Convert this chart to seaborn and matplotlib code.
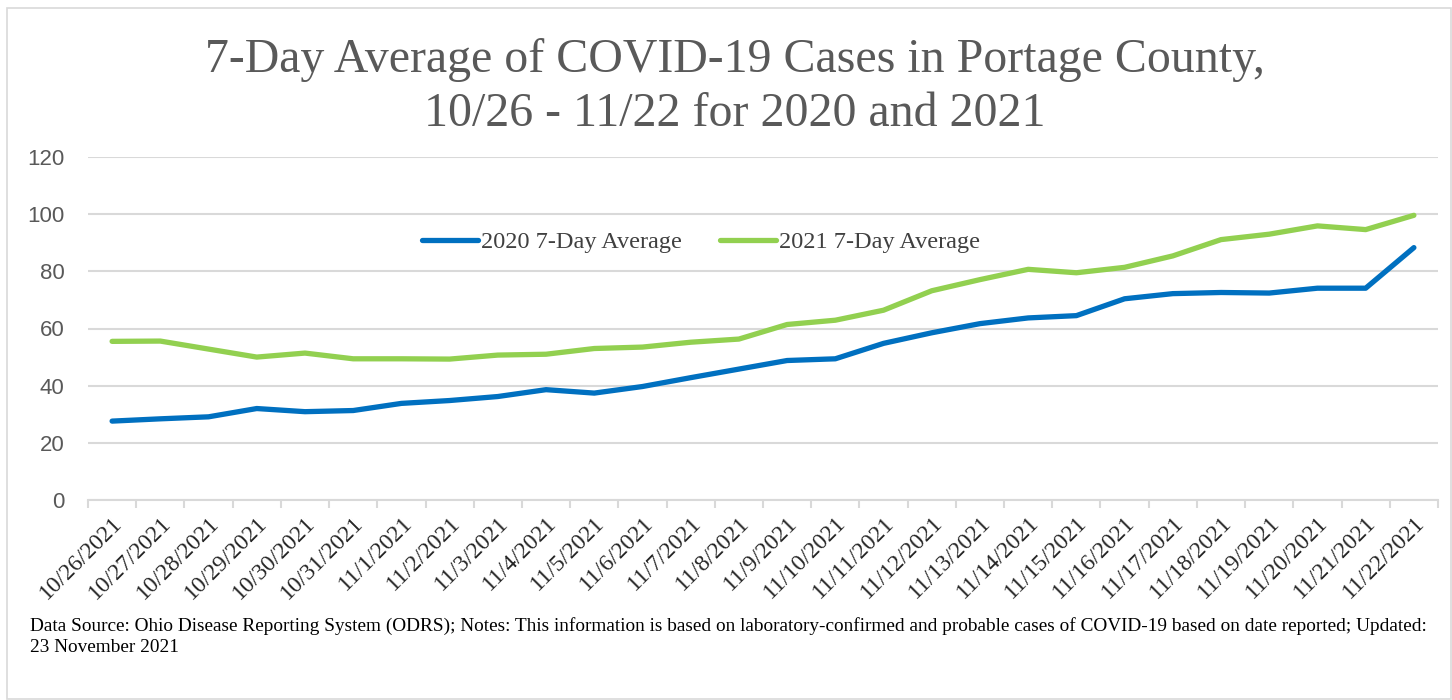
import numpy as np
import pandas as pd
import matplotlib
matplotlib.use("Agg")
import matplotlib.pyplot as plt
import seaborn as sns
from matplotlib.patches import Rectangle
from matplotlib.ticker import FixedLocator

dates = ["10/26/2021", "10/27/2021", "10/28/2021", "10/29/2021", "10/30/2021",
         "10/31/2021", "11/1/2021", "11/2/2021", "11/3/2021", "11/4/2021",
         "11/5/2021", "11/6/2021", "11/7/2021", "11/8/2021", "11/9/2021",
         "11/10/2021", "11/11/2021", "11/12/2021", "11/13/2021", "11/14/2021",
         "11/15/2021", "11/16/2021", "11/17/2021", "11/18/2021", "11/19/2021",
         "11/20/2021", "11/21/2021", "11/22/2021"]
avg_2020 = [27.6, 28.4, 29.1, 32.0, 30.9, 31.3, 33.8, 34.8, 36.2, 38.6,
            37.4, 39.7, 42.8, 45.8, 48.8, 49.4, 54.8, 58.5, 61.7, 63.7,
            64.5, 70.4, 72.2, 72.6, 72.4, 74.1, 74.1, 88.3]
avg_2021 = [55.5, 55.6, 52.8, 50.0, 51.4, 49.4, 49.4, 49.3, 50.7, 51.0,
            53.0, 53.5, 55.2, 56.3, 61.4, 62.9, 66.4, 73.2, 77.1, 80.7,
            79.5, 81.4, 85.4, 91.1, 93.0, 95.9, 94.6, 99.6]
series_names = ["2020 7-Day Average", "2021 7-Day Average"]
yticks = [0, 20, 40, 60, 80, 100, 120]

idx = list(range(len(dates)))
df = pd.DataFrame({
    "idx": idx * 2,
    "value": avg_2020 + avg_2021,
    "series": [series_names[0]] * len(dates) + [series_names[1]] * len(dates),
})

sns.set_theme(style="white")
plt.rcParams["font.family"] = ["Liberation Serif", "DejaVu Serif"]

fig = plt.figure(figsize=(14.52, 7.0), dpi=100)
ax = fig.add_axes([88 / 1452, 1 - 500 / 700, (1438 - 88) / 1452, (500 - 157) / 700])

palette = {series_names[0]: "#0070C0", series_names[1]: "#92D050"}
sns.lineplot(data=df, x="idx", y="value", hue="series", palette=palette,
             linewidth=3.8, ax=ax, legend=True, solid_capstyle="round")

ax.set_xlim(-0.5, len(dates) - 0.5)
ax.set_ylim(0, 120)
ax.set_yticks(yticks)
ax.set_yticklabels([str(v) for v in yticks], fontfamily="Liberation Sans",
                   fontsize=16, color="#595959")
ax.yaxis.grid(True, color="#D9D9D9", linewidth=1.5)
ax.set_axisbelow(True)
for s in ["top", "right", "left"]:
    ax.spines[s].set_visible(False)
ax.spines["bottom"].set_color("#D9D9D9")
ax.spines["bottom"].set_linewidth(1.5)
ax.tick_params(axis="y", length=0, pad=17)

ax.set_xticks(idx)
ax.set_xticklabels(dates, rotation=45, ha="right", rotation_mode="anchor",
                   fontsize=17, color="#262626")
ax.tick_params(axis="x", which="major", length=0, pad=9)
ax.xaxis.set_minor_locator(FixedLocator(np.arange(-0.5, len(dates), 1.0)))
ax.tick_params(axis="x", which="minor", length=6, width=1.5, color="#D9D9D9",
               direction="out", bottom=True)
ax.set_xlabel("")
ax.set_ylabel("")

leg = ax.legend(loc="center", bbox_to_anchor=(0.454, 0.752), ncol=2, frameon=False,
                fontsize=17.5, handlelength=2.3, columnspacing=1.6, handletextpad=0.1,
                labelcolor="#404040")
for h in leg.get_lines():
    h.set_linewidth(3.8)

fig.text(735 / 1452, 1 - 60 / 700, "7-Day Average of COVID-19 Cases in Portage County,",
         ha="center", va="center", fontsize=34.5, color="#595959")
fig.text(735 / 1452, 1 - 114 / 700, "10/26 - 11/22 for 2020 and 2021",
         ha="center", va="center", fontsize=34.5, color="#595959")

fig.text(30 / 1452, 1 - 626 / 700,
         "Data Source: Ohio Disease Reporting System (ODRS); Notes: This information is based on "
         "laboratory-confirmed and probable cases of COVID-19 based on date reported; Updated:",
         ha="left", va="center", fontsize=13.9, color="black")
fig.text(30 / 1452, 1 - 648 / 700, "23 November 2021",
         ha="left", va="center", fontsize=13.9, color="black")

fig.patches.append(Rectangle((7 / 1452, 0.002), 1 - 7 / 1452 - 0.001, 1 - 8 / 700 - 0.002,
                             transform=fig.transFigure, fill=False,
                             edgecolor="#D9D9D9", linewidth=1.2))

fig.savefig("out.png", dpi=100)
